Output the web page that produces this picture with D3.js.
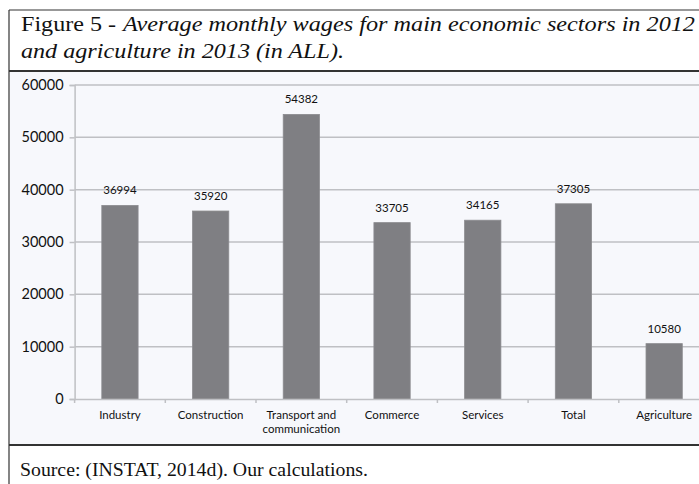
<!DOCTYPE html>
<html>
<head>
<meta charset="utf-8">
<script src="https://cdn.jsdelivr.net/npm/d3@7"></script>
<style>
  html, body { margin: 0; padding: 0; background: #ffffff; }
  svg { display: block; }
</style>
</head>
<body>
<svg id="fig" width="699" height="484"></svg>
<script>
// Sector wages (ALL)
const categories = ["Industry", "Construction", "Transport and communication", "Commerce", "Services", "Total", "Agriculture"];
const wages = [36994, 35920, 54382, 33705, 34165, 37305, 10580];
const yTicks = [0, 10000, 20000, 30000, 40000, 50000, 60000];

const svg = d3.select("#fig");
const W = 699, H = 484;

// Frame: outer box, title separator and chart panel
const boxLeft = 9, boxTop = 10, sepY = 71, panelBottom = 445;
svg.append("rect").attr("x", boxLeft + 1).attr("y", sepY + 1)
  .attr("width", W - boxLeft).attr("height", panelBottom - sepY - 2)
  .attr("fill", "#f7f8fc");
svg.append("line").attr("x1", boxLeft).attr("x2", W + 5).attr("y1", boxTop).attr("y2", boxTop)
  .attr("stroke", "#333").attr("stroke-width", 1.2);
svg.append("line").attr("x1", boxLeft).attr("x2", boxLeft).attr("y1", boxTop).attr("y2", H + 5)
  .attr("stroke", "#333").attr("stroke-width", 1.2);
svg.append("line").attr("x1", boxLeft).attr("x2", W + 5).attr("y1", sepY).attr("y2", sepY)
  .attr("stroke", "#333").attr("stroke-width", 2);
svg.append("line").attr("x1", boxLeft).attr("x2", W + 5).attr("y1", panelBottom).attr("y2", panelBottom)
  .attr("stroke", "#333").attr("stroke-width", 2);

// Title and source, set in a serif face
const serif = "'Liberation Serif', 'Times New Roman', serif";
function serifText(str, xPos, yPos, size, italic, len) {
  return svg.append("text").attr("font-family", serif).attr("font-size", size)
    .attr("font-style", italic ? "italic" : "normal").attr("fill", "#111")
    .attr("x", xPos).attr("y", yPos)
    .attr("textLength", len).attr("lengthAdjust", "spacingAndGlyphs")
    .text(str);
}
serifText("Figure 5 -", 21, 31, 22, false, 95);
serifText("Average monthly wages for main economic sectors in 2012", 123, 31, 22, true, 572);
serifText("and agriculture in 2013 (in ALL).", 21, 58, 22, true, 323);
serifText("Source: (INSTAT, 2014d). Our calculations.", 20, 476, 18, false, 348);

// Plot area
const x0 = 74.6, bandW = 90.7;
const x = d3.scaleBand().domain(categories).range([x0, x0 + bandW * categories.length])
  .paddingInner(0.6).paddingOuter(0.3);
const y = d3.scaleLinear().domain([0, 60000]).range([399, 85]);

const font = "Lato, 'Open Sans', sans-serif";
const gridColor = "#bfc0c4";

// Gridlines and y axis
const yAxis = d3.axisLeft(y).tickValues(yTicks).tickSize(5).tickPadding(6).tickFormat(d3.format("d"));
const gy = svg.append("g").attr("transform", `translate(${x0},0)`).call(yAxis);
gy.select(".domain").attr("stroke", gridColor).attr("stroke-width", 1.5);
gy.selectAll(".tick line").attr("stroke", gridColor).attr("stroke-width", 1.5);
gy.selectAll(".tick text").attr("font-family", font).attr("font-size", 14.5).attr("fill", "#111");

svg.append("g").selectAll("line").data(yTicks.filter(d => d > 0)).join("line")
  .attr("x1", x0).attr("x2", W + 20)
  .attr("y1", d => y(d)).attr("y2", d => y(d))
  .attr("stroke", gridColor).attr("stroke-width", 1.5);

// Bars
svg.append("g").selectAll("rect").data(categories).join("rect")
  .attr("x", d => x(d)).attr("width", x.bandwidth())
  .attr("y", (d, i) => y(wages[i])).attr("height", (d, i) => y(0) - y(wages[i]))
  .attr("fill", "#7f7f83").attr("stroke", "#8c8c90").attr("stroke-width", 0.8);

// Value labels
svg.append("g").selectAll("text").data(categories).join("text")
  .attr("x", d => x(d) + x.bandwidth() / 2)
  .attr("y", (d, i) => y(wages[i]) - 11)
  .attr("text-anchor", "middle").attr("font-family", font).attr("font-size", 11.5).attr("fill", "#111")
  .text((d, i) => wages[i]);

// X axis
const xAxis = d3.axisBottom(x).tickSize(0).tickFormat("");
const gx = svg.append("g").attr("transform", `translate(0,${y(0)})`).call(xAxis);
gx.select(".domain").attr("stroke", gridColor).attr("stroke-width", 1.5);
// Tick marks on category boundaries
svg.append("g").selectAll("line").data(d3.range(categories.length + 1)).join("line")
  .attr("x1", i => x0 + i * bandW).attr("x2", i => x0 + i * bandW)
  .attr("y1", y(0)).attr("y2", y(0) + 4)
  .attr("stroke", gridColor).attr("stroke-width", 1.5);

// Category labels; long names wrap onto two lines at the last space
const catLabels = svg.append("g").selectAll("text").data(categories).join("text")
  .attr("text-anchor", "middle").attr("font-family", font).attr("font-size", 11.5).attr("fill", "#111");
catLabels.each(function(d) {
  const t = d3.select(this);
  const cx = x(d) + x.bandwidth() / 2;
  const cut = d.lastIndexOf(" ");
  const parts = d.length > 16 ? [d.slice(0, cut), d.slice(cut + 1)] : [d];
  parts.forEach((p, i) => t.append("tspan").attr("x", cx).attr("y", 419 + i * 14).text(p));
});
</script>
</body>
</html>
